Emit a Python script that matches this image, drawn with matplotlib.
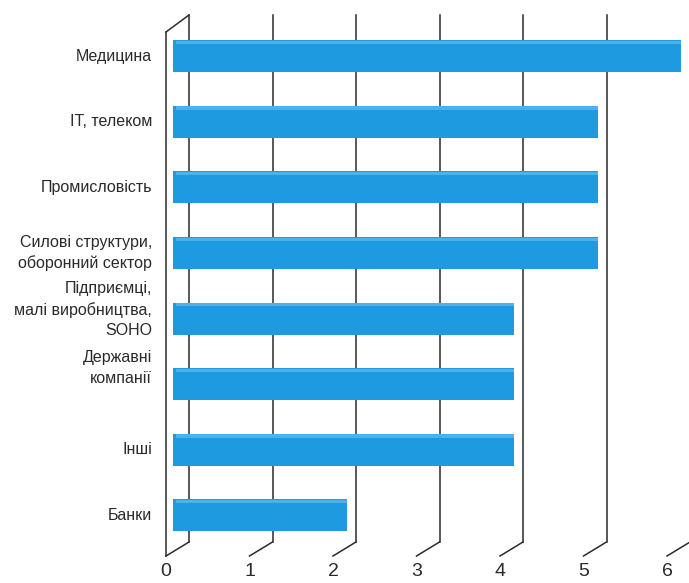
import matplotlib
matplotlib.use("Agg")
import matplotlib.pyplot as plt
import matplotlib.transforms as mtransforms

# Дані
categories = [
    "Медицина",
    "IT, телеком",
    "Промисловість",
    "Силові структури,\nоборонний сектор",
    "Підприємці,\nмалі виробництва,\nSOHO",
    "Державні\nкомпанії",
    "Інші",
    "Банки",
]
values = [6, 5, 5, 5, 4, 4, 4, 2]
ticks = [0, 1, 2, 3, 4, 5, 6]
# невеликий зсув підписів угору (px), як в оригіналі
label_shift = [0, 0, 0, 0, 9, 16, 0, 0]

font = ["Liberation Sans Narrow", "Liberation Sans", "DejaVu Sans"]
W, H = 689, 583

fig = plt.figure(figsize=(W / 100, H / 100), dpi=100)
# передня площина: x 166..667 px, y 32..556 px
ax = fig.add_axes([166 / W, (H - 556) / H, 501 / W, 524 / H])
ax.set_xlim(0, 6)
ax.set_ylim(7.62, -0.37)
for s in ax.spines.values():
    s.set_visible(False)

# зсув "глибини" (3D)
depth = mtransforms.ScaledTranslation(23 / 100, 0, fig.dpi_scale_trans)
blend = mtransforms.blended_transform_factory(ax.transData, ax.transAxes)
back = blend + depth
top_b = 1 + 17 / 524
bot_b = 14 / 524

line_kw = dict(color="#2b2b2b", lw=1.1, clip_on=False, zorder=1)
for t in ticks:
    ax.plot([t, t], [bot_b, top_b], transform=back, **line_kw)
    ax.plot([t + 23 / 83.5, t], [bot_b, 0], transform=blend, **line_kw)
# ліва стінка
ax.plot([0, 0], [0, 1], transform=blend, **line_kw)
ax.plot([0, 23 / 83.5], [1, top_b], transform=blend, **line_kw)

# стовпці
bar_tr = ax.transData + mtransforms.ScaledTranslation(14 / 100, 0, fig.dpi_scale_trans)
ys = list(range(len(categories)))
bars = ax.barh(ys, [v + 0.085 for v in values], left=-0.085, height=0.49,
               color="#1e9be0", transform=bar_tr, zorder=3)
hl = ax.barh([y - 0.21 for y in ys], [v + 0.05 for v in values], left=-0.05,
             height=0.05, color="#4cb2ea", transform=bar_tr, zorder=4)
for p in list(bars) + list(hl):
    p.set_clip_on(False)

# підписи категорій
ax.set_yticks([])
ylab = mtransforms.blended_transform_factory(ax.transAxes, ax.transData)
for y, name, sh in zip(ys, categories, label_shift):
    tr = ylab + mtransforms.ScaledTranslation(-14 / 100, sh / 100, fig.dpi_scale_trans)
    ax.text(0, y, name, transform=tr, ha="right", va="center",
            multialignment="right", family=font, fontsize=11.5,
            color="#2a2a2a", linespacing=1.45)

ax.set_xticks(ticks)
ax.set_xticklabels([str(t) for t in ticks], family=font, fontsize=14,
                   color="#2a2a2a")
ax.tick_params(length=0)
ax.tick_params(axis="x", pad=5)

fig.savefig("out.png", dpi=100)
